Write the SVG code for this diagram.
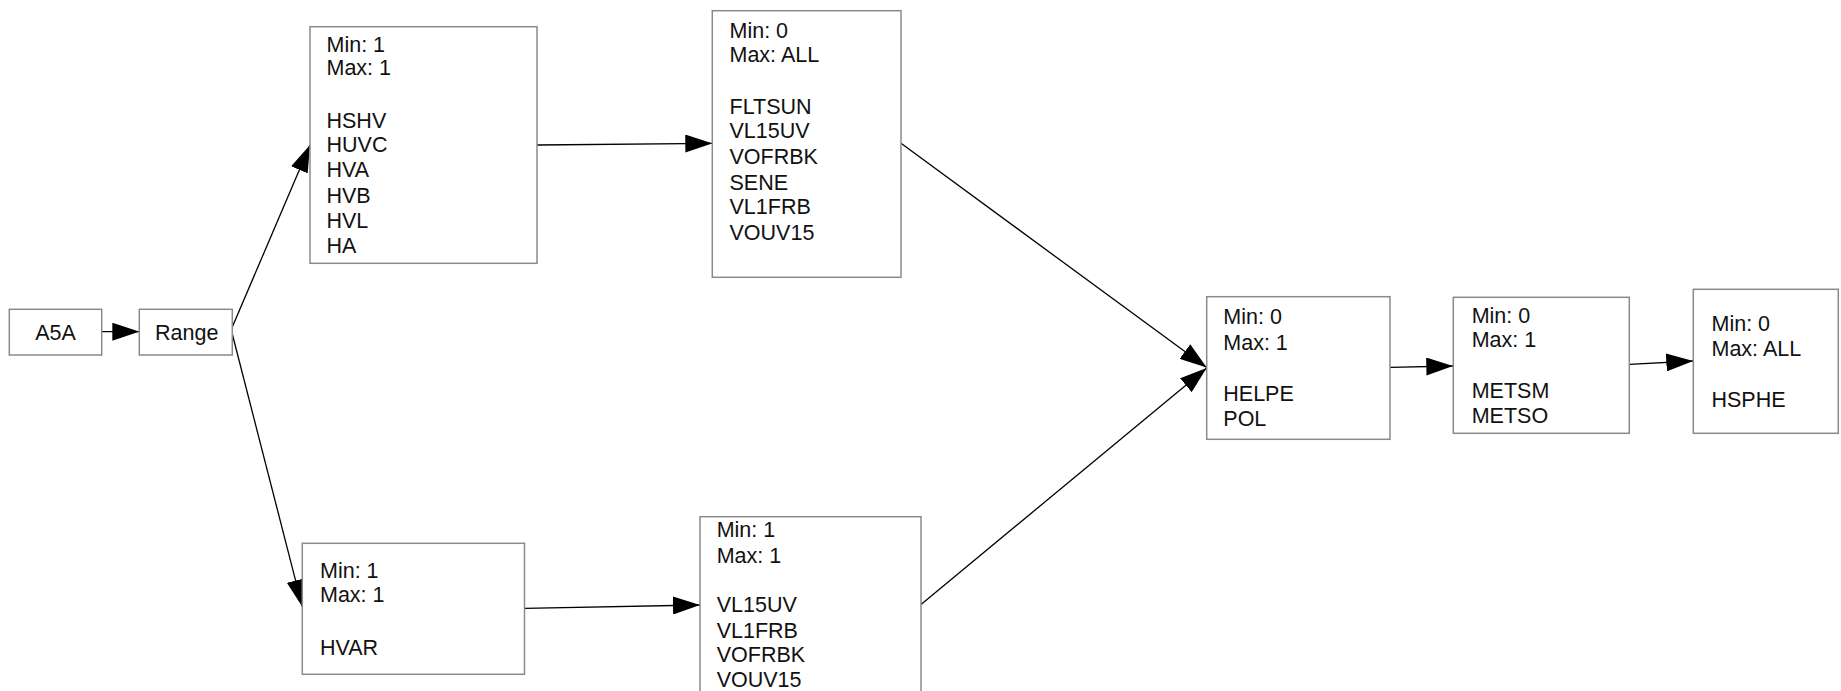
<svg xmlns="http://www.w3.org/2000/svg" width="1841" height="691" viewBox="0 0 1841 691">
<style>
.box{fill:#fff;stroke:#8a8a8a;stroke-width:1.5}
.t{font-family:"Liberation Sans",Arial,sans-serif;font-size:21.5px;fill:#111}
.c{text-anchor:middle}
.e{fill:none;stroke:#000;stroke-width:1.3}
</style>
<defs>
<marker id="ah" markerUnits="userSpaceOnUse" viewBox="0 0 27 18" refX="27" refY="9" markerWidth="27" markerHeight="18" orient="auto">
<path d="M0,0 L27,9 L0,18 z" fill="#000"/>
</marker>
</defs>
<rect width="1841" height="691" fill="#fff"/>
<g id="connectors">
<line class="e" x1="101.7" y1="331.7" x2="139.3" y2="331.7" marker-end="url(#ah)"/>
<line class="e" x1="232.3" y1="327" x2="310" y2="145" marker-end="url(#ah)"/>
<line class="e" x1="232.3" y1="334" x2="302.3" y2="606.7" marker-end="url(#ah)"/>
<line class="e" x1="537" y1="145" x2="712.3" y2="143.3" marker-end="url(#ah)"/>
<line class="e" x1="524.5" y1="608.3" x2="700" y2="605" marker-end="url(#ah)"/>
<line class="e" x1="901" y1="143.3" x2="1206.7" y2="367.5" marker-end="url(#ah)"/>
<line class="e" x1="921" y1="604.5" x2="1206.7" y2="368" marker-end="url(#ah)"/>
<line class="e" x1="1390" y1="367.3" x2="1453.3" y2="366" marker-end="url(#ah)"/>
<line class="e" x1="1629.3" y1="364.3" x2="1693.3" y2="361" marker-end="url(#ah)"/>
</g>
<g id="A5A">
<rect class="box" x="9.3" y="309.3" width="92.4" height="45.7"/>
<text class="t c" x="55.5" y="340">A5A</text>
</g>
<g id="Range">
<rect class="box" x="139.3" y="309.3" width="93" height="45.7"/>
<text class="t c" x="186.7" y="340">Range</text>
</g>
<g id="HSHV">
<rect class="box" x="310" y="26.7" width="227" height="236.6"/>
<text class="t" x="326.5" y="52">Min: 1</text>
<text class="t" x="326.5" y="75">Max: 1</text>
<text class="t" x="326.5" y="128">HSHV</text>
<text class="t" x="326.5" y="152">HUVC</text>
<text class="t" x="326.5" y="177">HVA</text>
<text class="t" x="326.5" y="203">HVB</text>
<text class="t" x="326.5" y="228">HVL</text>
<text class="t" x="326.5" y="253">HA</text>
</g>
<g id="FLTSUN">
<rect class="box" x="712.3" y="10.7" width="188.7" height="266.6"/>
<text class="t" x="729.5" y="37.5">Min: 0</text>
<text class="t" x="729.5" y="62">Max: ALL</text>
<text class="t" x="729.5" y="114">FLTSUN</text>
<text class="t" x="729.5" y="138">VL15UV</text>
<text class="t" x="729.5" y="164">VOFRBK</text>
<text class="t" x="729.5" y="190">SENE</text>
<text class="t" x="729.5" y="214">VL1FRB</text>
<text class="t" x="729.5" y="240">VOUV15</text>
</g>
<g id="HVAR">
<rect class="box" x="302.3" y="543.3" width="222.2" height="131"/>
<text class="t" x="320" y="578">Min: 1</text>
<text class="t" x="320" y="602">Max: 1</text>
<text class="t" x="320" y="654.5">HVAR</text>
</g>
<g id="VL15UV">
<rect class="box" x="700" y="516.7" width="221" height="200"/>
<text class="t" x="716.7" y="536.5">Min: 1</text>
<text class="t" x="716.7" y="563">Max: 1</text>
<text class="t" x="716.7" y="611.5">VL15UV</text>
<text class="t" x="716.7" y="638">VL1FRB</text>
<text class="t" x="716.7" y="661.5">VOFRBK</text>
<text class="t" x="716.7" y="686.5">VOUV15</text>
</g>
<g id="HELPE">
<rect class="box" x="1206.7" y="296.7" width="183.3" height="142.6"/>
<text class="t" x="1223.3" y="324">Min: 0</text>
<text class="t" x="1223.3" y="350">Max: 1</text>
<text class="t" x="1223.3" y="400.5">HELPE</text>
<text class="t" x="1223.3" y="426">POL</text>
</g>
<g id="METSM">
<rect class="box" x="1453.3" y="297.3" width="176" height="136"/>
<text class="t" x="1471.7" y="322.5">Min: 0</text>
<text class="t" x="1471.7" y="346.5">Max: 1</text>
<text class="t" x="1471.7" y="398">METSM</text>
<text class="t" x="1471.7" y="422.5">METSO</text>
</g>
<g id="HSPHE">
<rect class="box" x="1693.3" y="289.3" width="145" height="144"/>
<text class="t" x="1711.5" y="331">Min: 0</text>
<text class="t" x="1711.5" y="356">Max: ALL</text>
<text class="t" x="1711.5" y="406.5">HSPHE</text>
</g>
</svg>
